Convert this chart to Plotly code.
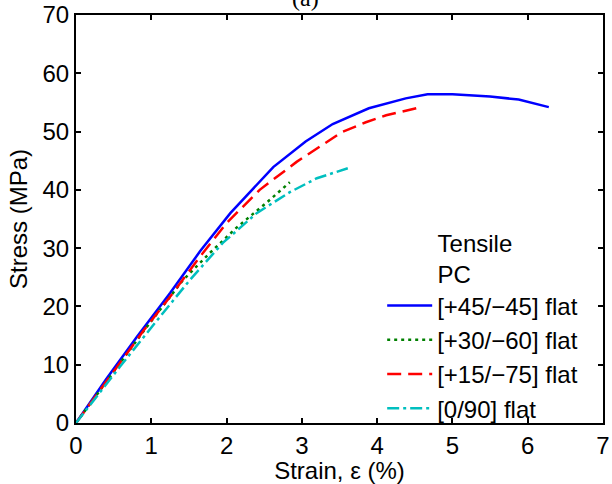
import plotly.graph_objects as go

# strain (%) and stress (MPa)
x_45 = [0, 0.4, 0.81, 1.25, 1.65, 2.05, 2.62, 3.05, 3.41, 3.89, 4.38, 4.67, 5.0, 5.5, 5.88, 6.28]
y_45 = [0, 7.5, 14.8, 22.3, 29.5, 36.0, 43.9, 48.3, 51.3, 54.0, 55.7, 56.4, 56.4, 56.0, 55.5, 54.2]

x_30 = [0, 0.45, 0.9, 1.42, 1.78, 2.14, 2.54, 2.84]
y_30 = [0, 8.0, 15.8, 24.5, 29.2, 33.6, 37.9, 41.3]

x_15 = [0, 0.45, 0.9, 1.27, 1.65, 2.0, 2.44, 2.93, 3.53, 3.85, 4.12, 4.52]
y_15 = [0, 8.0, 15.9, 22.0, 28.6, 34.3, 40.0, 44.8, 49.9, 51.6, 52.8, 54.0]

x_0 = [0, 0.58, 1.12, 1.51, 1.95, 2.40, 2.84, 3.2, 3.61]
y_0 = [0, 9.6, 18.3, 24.5, 30.9, 36.0, 39.6, 42.0, 43.7]

names = ["[+45/\u221245] flat", "[+30/\u221260] flat", "[+15/\u221275] flat", "[0/90] flat"]

FONT = "Arial, Liberation Sans, Helvetica, sans-serif"
FS = 24

fig = go.Figure()

series = [
    (x_45, y_45, "#0000ff", "solid"),
    (x_30, y_30, "#008000", "3px,4px"),
    (x_15, y_15, "#ff0000", "14px,7px"),
    (x_0, y_0, "#00bfbf", "12px,4px,3px,4px"),
]
for i, (xs, ys, col, dash) in enumerate(series):
    fig.add_trace(go.Scatter(x=xs, y=ys, mode="lines", name=names[i],
                             line=dict(color=col, width=2.5, dash=dash)))

axis_style = dict(showline=True, linecolor="black", linewidth=2, mirror="ticks",
                  ticks="inside", ticklen=5, tickwidth=2, tickcolor="black",
                  showgrid=False, zeroline=False, automargin=False,
                  tickfont=dict(family=FONT, size=FS, color="black"))

fig.update_xaxes(range=[0, 7], dtick=1,
                 title=dict(text="Strain, \u03b5 (%)", font=dict(family=FONT, size=FS, color="black"), standoff=2),
                 **axis_style)
fig.update_yaxes(range=[0, 70], dtick=10,
                 title=dict(text="Stress (MPa)", font=dict(family=FONT, size=FS, color="black"), standoff=8),
                 **axis_style)

fig.add_annotation(text="(a)", x=0.435, y=1.0, xref="paper", yref="paper",
                   xanchor="center", yanchor="bottom", showarrow=False, yshift=2,
                   font=dict(family="Liberation Serif, Times New Roman, serif", size=FS, color="black"))

pad = "\u00a0" * 8
fig.update_layout(
    width=612, height=484,
    margin=dict(l=76, r=9, t=15, b=61),
    paper_bgcolor="white", plot_bgcolor="white",
    showlegend=True,
    legend=dict(x=0.581, y=0.495, xanchor="left", yanchor="top",
                bgcolor="rgba(0,0,0,0)", itemwidth=45,
                title=dict(text=pad + "Tensile<br>" + pad + "PC",
                           font=dict(family=FONT, size=FS, color="black")),
                font=dict(family=FONT, size=FS, color="black")),
)

fig.write_html("out.html", config={"displayModeBar": False},
               post_script="document.body.style.margin='0px';")
